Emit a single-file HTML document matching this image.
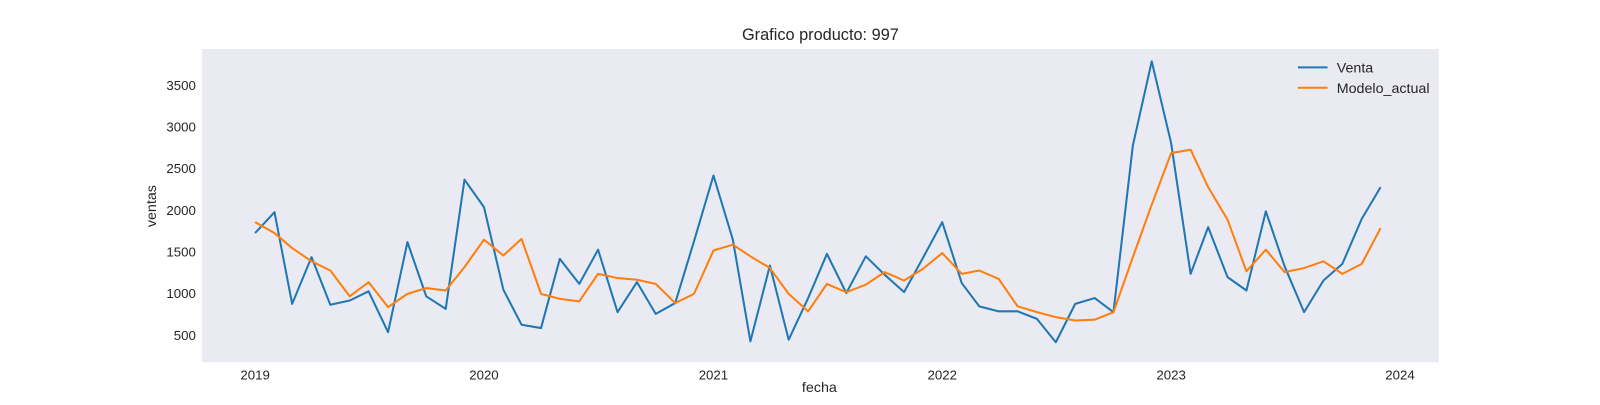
<!DOCTYPE html>
<html><head><meta charset="utf-8"><style>
body{margin:0;background:#fff;font-family:"Liberation Sans",sans-serif}
</style></head><body>
<svg id="chart" width="1600" height="400" viewBox="0 0 1568 392" xmlns="http://www.w3.org/2000/svg" font-family="Liberation Sans, sans-serif">
<rect x="198" y="48" width="1212" height="307" fill="#eaeaf2"/>
<text x="804" y="39" text-anchor="middle" font-size="16" fill="#262626">Grafico producto: 997</text>
<text x="803" y="384" text-anchor="middle" font-size="14" fill="#262626">fecha</text>
<text transform="translate(153,202) rotate(-90)" text-anchor="middle" font-size="14" fill="#262626">ventas</text>
<g id="yticks"></g><g id="xticks"></g><g id="series"></g>
<g>
<line x1="1272" y1="66" x2="1301" y2="66" stroke="#1f77b4" stroke-width="2"/>
<text x="1310" y="71" font-size="14" fill="#262626">Venta</text>
<line x1="1272" y1="86" x2="1301" y2="86" stroke="#ff7f0e" stroke-width="2"/>
<text x="1310" y="91" font-size="14" fill="#262626">Modelo_actual</text>
</g>
</svg>
<script>
const venta=[1720,1970,870,1430,860,910,1020,530,1610,960,810,2360,2030,1040,620,580,1410,1110,1520,770,1130,750,880,1620,2410,1640,420,1330,440,940,1470,1000,1440,1220,1010,1420,1850,1120,840,780,780,690,410,870,940,770,2770,3780,2800,1230,1790,1190,1030,1980,1320,770,1150,1350,1890,2270];
const modelo=[1850,1720,1540,1380,1270,960,1130,830,990,1060,1030,1310,1640,1450,1650,990,930,900,1230,1180,1160,1110,880,990,1510,1580,1440,1300,990,780,1110,1010,1100,1250,1150,1290,1480,1230,1270,1170,840,770,710,670,680,770,1430,2060,2680,2720,2270,1880,1260,1520,1250,1300,1380,1230,1350,1780];
const yTicks=[500,1000,1500,2000,2500,3000,3500];
const xTickLabels=["2019","2020","2021","2022","2023","2024"];
const startYear=2019;
const NS="http://www.w3.org/2000/svg";
const t0=Date.UTC(2019,0,1), t1=Date.UTC(2024,0,1);
function xDate(ms){return 250+(ms-t0)/(t1-t0)*1122;}
function xIdx(i){return xDate(Date.UTC(startYear,i,1));}
function y(v){return 328-(v-500)*0.08167;}
const yg=document.getElementById('yticks');
yTicks.forEach(v=>{
 const t=document.createElementNS(NS,'text');
 t.setAttribute('x',192);t.setAttribute('y',y(v)+5);t.setAttribute('text-anchor','end');
 t.setAttribute('font-size','13');t.setAttribute('fill','#262626');t.textContent=v;
 
 
 yg.appendChild(t);
});
const xg=document.getElementById('xticks');
xTickLabels.forEach(l=>{
 const t=document.createElementNS(NS,'text');
 t.setAttribute('x',xDate(Date.UTC(+l,0,1)));t.setAttribute('y',372);t.setAttribute('text-anchor','middle');
 t.setAttribute('font-size','13');t.setAttribute('fill','#262626');t.textContent=l;
 
 
 xg.appendChild(t);
});
const sg=document.getElementById('series');
function line(data,color,name){
 const p=document.createElementNS(NS,'polyline');
 p.setAttribute('points',data.map((v,i)=>xIdx(i).toFixed(1)+','+y(v).toFixed(1)).join(' '));
 p.setAttribute('fill','none');p.setAttribute('stroke',color);p.setAttribute('stroke-width','2');
 p.setAttribute('stroke-linejoin','round');
 
 
 sg.appendChild(p);
}
line(venta,'#1f77b4','venta-line');
line(modelo,'#ff7f0e','modelo-actual-line');
</script>
</body></html>
